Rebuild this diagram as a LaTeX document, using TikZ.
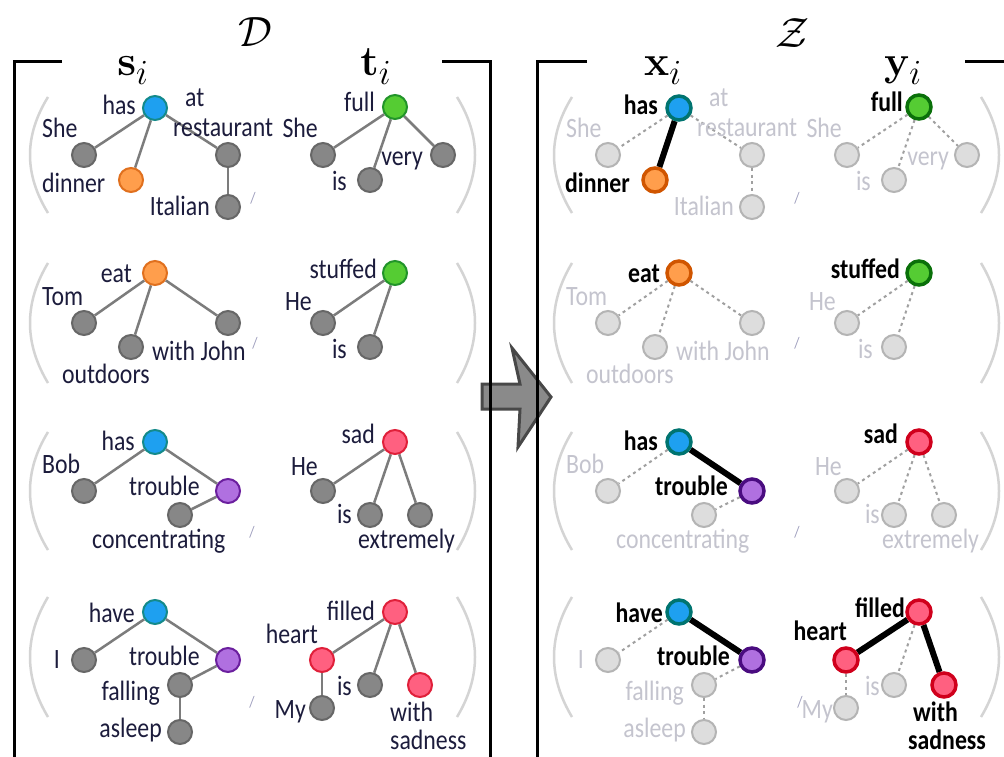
\documentclass[tikz,border=0pt]{standalone}
\usepackage[no-math]{fontspec}
\setmainfont{Carlito}[FakeStretch=0.85]
\usetikzlibrary{backgrounds}
\definecolor{ngray}{HTML}{878787}
\definecolor{ngrayd}{HTML}{676767}
\definecolor{edgec}{HTML}{7C7C7C}
\definecolor{cblue}{HTML}{1EA0F0}
\definecolor{cblued}{HTML}{148A8A}
\definecolor{cbluedk}{HTML}{007470}
\definecolor{corange}{HTML}{FF9E4C}
\definecolor{coranged}{HTML}{E0701E}
\definecolor{corangedk}{HTML}{D05500}
\definecolor{cgreen}{HTML}{55CC33}
\definecolor{cgreend}{HTML}{22942A}
\definecolor{cgreendk}{HTML}{0A700A}
\definecolor{cpurple}{HTML}{B070E0}
\definecolor{cpurpled}{HTML}{6B1F9E}
\definecolor{cpurpledk}{HTML}{4A0C80}
\definecolor{cred}{HTML}{FF6080}
\definecolor{credd}{HTML}{E0203A}
\definecolor{creddk}{HTML}{D0001C}
\definecolor{fadef}{HTML}{DDDDDD}
\definecolor{faded}{HTML}{B4B4B4}
\definecolor{fadee}{HTML}{A0A0A0}
\definecolor{labc}{HTML}{1C1C3C}
\definecolor{fadelab}{HTML}{C4C4CE}
\definecolor{slc}{HTML}{9C9CBC}
\definecolor{parc}{HTML}{D4D4D4}
\definecolor{arrf}{HTML}{8A8A8A}
\definecolor{arrd}{HTML}{484848}
\newcommand\labfont{\fontsize{28}{32}\selectfont}
\newcommand\ttlm[1]{\scalebox{1.7}{\Huge$#1$}}
\begin{document}
\begin{tikzpicture}[x=1pt,y=-1pt,
  nd/.style={circle, minimum size=24pt, inner sep=0pt, line width=2pt},
  gy/.style={nd, fill=ngray, draw=ngrayd},
  bl/.style={nd, fill=cblue, draw=cblued},
  orn/.style={nd, fill=corange, draw=coranged},
  grn/.style={nd, fill=cgreen, draw=cgreend},
  pu/.style={nd, fill=cpurple, draw=cpurpled},
  rd/.style={nd, fill=cred, draw=credd},
  fd/.style={nd, fill=fadef, draw=faded},
  Hbl/.style={nd, fill=cblue, draw=cbluedk, line width=3.5pt},
  Horn/.style={nd, fill=corange, draw=corangedk, line width=3.5pt},
  Hgrn/.style={nd, fill=cgreen, draw=cgreendk, line width=3.5pt},
  Hpu/.style={nd, fill=cpurple, draw=cpurpledk, line width=3.5pt},
  Hrd/.style={nd, fill=cred, draw=creddk, line width=3.5pt},
  lab/.style={inner sep=0pt, text=labc, font=\labfont},
  flab/.style={inner sep=0pt, text=fadelab, font=\labfont},
  blab/.style={inner sep=0pt, text=black, font=\labfont\bfseries},
  sl/.style={inner sep=0pt, text=slc, font=\fontsize{16}{16}\selectfont},
  ed/.style={draw=edgec, line width=2.5pt},
  fe/.style={draw=fadee, line width=2pt, dash pattern=on 3pt off 3.5pt},
  he/.style={draw=black, line width=6pt},
  par/.style={draw=parc, line width=2.5pt},
  brk/.style={draw=black, line width=3pt},
  ttl/.style={inner sep=0pt, anchor=base}
]
\useasboundingbox (0,0) rectangle (1004,757);
\clip (0,0) rectangle (1004,757);
\begin{scope}[on background layer]
\fill[white] (0,0) rectangle (1004,757);
\end{scope}

% titles
\node[inner sep=0pt] (tD) at (255,32) {\ttlm{\mathcal{D}}};
\node[inner sep=0pt] (tZ) at (792,33) {\ttlm{\mathcal{Z}}};
\node[ttl] (ts) at (133,76) {\ttlm{\mathbf{s}_i}};
\node[ttl] (tt) at (376,76) {\ttlm{\mathbf{t}_i}};
\node[ttl] (tx) at (663,76) {\ttlm{\mathbf{x}_i}};
\node[ttl] (ty) at (903,76) {\ttlm{\mathbf{y}_i}};

% arrow
\draw[fill=arrf, draw=arrd, line width=3pt, line join=miter]
  (482,384) -- (520,384) -- (512,348) -- (551,397) -- (518,447) -- (520,409) -- (482,409) -- cycle;

% brackets
\draw[brk] (62,62) -- (14,62) -- (14,770);
\draw[brk] (442,62) -- (490,62) -- (490,770);
\draw[brk] (587,62) -- (537,62) -- (537,770);
\draw[brk] (965,62) -- (1020,62);

% ================= LEFT PANEL =================
\draw[par] (48,97) .. controls (24,136) and (24,174) .. (48,213);
\draw[par] (457,97) .. controls (481,136) and (481,174) .. (457,213);
\draw[par] (48,263) .. controls (24,303) and (24,343) .. (48,383);
\draw[par] (457,263) .. controls (481,303) and (481,343) .. (457,383);
\draw[par] (48,432) .. controls (24,471) and (24,511) .. (48,550);
\draw[par] (457,432) .. controls (481,471) and (481,511) .. (457,550);
\draw[par] (48,597) .. controls (24,637) and (24,677) .. (48,717);
\draw[par] (457,597) .. controls (481,637) and (481,677) .. (457,717);

% row 1
\node[bl] (a1) at (155,108) {};
\node[gy] (a2) at (84,155) {};
\node[orn] (a3) at (131,180) {};
\node[gy] (a4) at (228,155) {};
\node[gy] (a5) at (228,207) {};
\node[grn] (a6) at (395,107) {};
\node[gy] (a7) at (323,155) {};
\node[gy] (a8) at (370,180) {};
\node[gy] (a9) at (443,155) {};
\node[lab, anchor=base east] (la1) at (136,115) {has};
\node[lab, anchor=base west] (la2) at (42,138) {She};
\node[lab, anchor=base west] (la3) at (42,193) {dinner};
\node[lab, anchor=base west] (la4a) at (185,107) {at};
\node[lab, anchor=base west] (la4b) at (173,137) {restaurant};
\node[lab, anchor=base east] (la5) at (210,215) {Italian};
\node[sl] (sa) at (253,198) {/};
\node[lab, anchor=base east] (la6) at (375,112) {full};
\node[lab, anchor=base east] (la7) at (318,138) {She};
\node[lab, anchor=base east] (la8) at (347,190) {is};
\node[lab, anchor=base east] (la9) at (423,165) {very};

% row 2
\node[orn] (b1) at (155,273) {};
\node[gy] (b2) at (84,323) {};
\node[gy] (b3) at (131,347) {};
\node[gy] (b4) at (228,323) {};
\node[grn] (b5) at (395,273) {};
\node[gy] (b6) at (323,323) {};
\node[gy] (b7) at (370,347) {};
\node[lab, anchor=base east] (lb1) at (132,282) {eat};
\node[lab, anchor=base west] (lb2) at (42,305) {Tom};
\node[lab, anchor=base west] (lb3) at (62,383) {outdoors};
\node[lab, anchor=base west] (lb4) at (152,360) {with John};
\node[sl] (sb) at (255,343) {/};
\node[lab, anchor=base east] (lb5) at (377,278) {stuffed};
\node[lab, anchor=base east] (lb6) at (312,310) {He};
\node[lab, anchor=base east] (lb7) at (347,358) {is};

% row 3
\node[bl] (c1) at (155,442) {};
\node[gy] (c2) at (84,491) {};
\node[pu] (c3) at (228,491) {};
\node[gy] (c4) at (180,515) {};
\node[rd] (c5) at (395,442) {};
\node[gy] (c6) at (323,491) {};
\node[gy] (c7) at (370,515) {};
\node[gy] (c8) at (420,515) {};
\node[lab, anchor=base east] (lc1) at (135,450) {has};
\node[lab, anchor=base west] (lc2) at (42,473) {Bob};
\node[lab, anchor=base east] (lc3) at (200,495) {trouble};
\node[lab, anchor=base west] (lc4) at (92,548) {concentrating};
\node[sl] (sc) at (252,532) {/};
\node[lab, anchor=base east] (lc5) at (375,443) {sad};
\node[lab, anchor=base east] (lc6) at (318,475) {He};
\node[lab, anchor=base east] (lc7) at (352,523) {is};
\node[lab, anchor=base west] (lc8) at (358,548) {extremely};

% row 4
\node[bl] (d1) at (155,612) {};
\node[gy] (d2) at (84,660) {};
\node[pu] (d3) at (228,660) {};
\node[gy] (d4) at (180,685) {};
\node[gy] (d5) at (180,732) {};
\node[rd] (d6) at (395,612) {};
\node[rd] (d7) at (322,660) {};
\node[gy] (d8) at (322,708) {};
\node[gy] (d9) at (370,685) {};
\node[rd] (d10) at (420,685) {};
\node[lab, anchor=base east] (ld1) at (135,622) {have};
\node[lab, anchor=base east] (ld2) at (60,668) {I};
\node[lab, anchor=base east] (ld3) at (200,665) {trouble};
\node[lab, anchor=base east] (ld4) at (160,700) {falling};
\node[lab, anchor=base east] (ld5) at (162,737) {asleep};
\node[sl] (sd) at (252,702) {/};
\node[lab, anchor=base east] (ld6) at (375,620) {filled};
\node[lab, anchor=base east] (ld7) at (318,643) {heart};
\node[lab, anchor=base east] (ld8) at (306,718) {My};
\node[lab, anchor=base east] (ld9) at (352,695) {is};
\node[lab, anchor=base west] (ld10a) at (390,721) {with};
\node[lab, anchor=base west] (ld10b) at (390,749) {sadness};

\begin{scope}[on background layer]
\draw[ed] (a1) -- (a2); \draw[ed] (a1) -- (a3); \draw[ed] (a1) -- (a4); \draw[ed] (a4) -- (a5);
\draw[ed] (a6) -- (a7); \draw[ed] (a6) -- (a8); \draw[ed] (a6) -- (a9);
\draw[ed] (b1) -- (b2); \draw[ed] (b1) -- (b3); \draw[ed] (b1) -- (b4);
\draw[ed] (b5) -- (b6); \draw[ed] (b5) -- (b7);
\draw[ed] (c1) -- (c2); \draw[ed] (c1) -- (c3); \draw[ed] (c3) -- (c4);
\draw[ed] (c5) -- (c6); \draw[ed] (c5) -- (c7); \draw[ed] (c5) -- (c8);
\draw[ed] (d1) -- (d2); \draw[ed] (d1) -- (d3); \draw[ed] (d3) -- (d4); \draw[ed] (d4) -- (d5);
\draw[ed] (d6) -- (d7); \draw[ed] (d6) -- (d9); \draw[ed] (d6) -- (d10); \draw[ed] (d7) -- (d8);
\end{scope}

% ================= RIGHT PANEL =================
\begin{scope}[xshift=524pt]
\draw[par] (48,97) .. controls (24,136) and (24,174) .. (48,213);
\draw[par] (457,97) .. controls (481,136) and (481,174) .. (457,213);
\draw[par] (48,263) .. controls (24,303) and (24,343) .. (48,383);
\draw[par] (457,263) .. controls (481,303) and (481,343) .. (457,383);
\draw[par] (48,432) .. controls (24,471) and (24,511) .. (48,550);
\draw[par] (457,432) .. controls (481,471) and (481,511) .. (457,550);
\draw[par] (48,597) .. controls (24,637) and (24,677) .. (48,717);
\draw[par] (457,597) .. controls (481,637) and (481,677) .. (457,717);

% row 1
\node[Hbl] (ra1) at (155,108) {};
\node[fd] (ra2) at (84,155) {};
\node[Horn] (ra3) at (131,180) {};
\node[fd] (ra4) at (228,155) {};
\node[fd] (ra5) at (228,207) {};
\node[Hgrn] (ra6) at (395,107) {};
\node[fd] (ra7) at (323,155) {};
\node[fd] (ra8) at (370,180) {};
\node[fd] (ra9) at (443,155) {};
\node[blab, anchor=base east] (rla1) at (134,115) {has};
\node[flab, anchor=base west] (rla2) at (42,138) {She};
\node[blab, anchor=base west] (rla3) at (41,193) {dinner};
\node[flab, anchor=base west] (rla4a) at (185,107) {at};
\node[flab, anchor=base west] (rla4b) at (173,137) {restaurant};
\node[flab, anchor=base east] (rla5) at (210,215) {Italian};
\node[sl] (rsa) at (273,198) {/};
\node[blab, anchor=base east] (rla6) at (379,112) {full};
\node[flab, anchor=base east] (rla7) at (318,138) {She};
\node[flab, anchor=base east] (rla8) at (347,190) {is};
\node[flab, anchor=base east] (rla9) at (425,165) {very};

% row 2
\node[Horn] (rb1) at (155,273) {};
\node[fd] (rb2) at (84,323) {};
\node[fd] (rb3) at (131,347) {};
\node[fd] (rb4) at (228,323) {};
\node[Hgrn] (rb5) at (395,273) {};
\node[fd] (rb6) at (323,323) {};
\node[fd] (rb7) at (370,347) {};
\node[blab, anchor=base east] (rlb1) at (136,282) {eat};
\node[flab, anchor=base west] (rlb2) at (42,305) {Tom};
\node[flab, anchor=base west] (rlb3) at (62,383) {outdoors};
\node[flab, anchor=base west] (rlb4) at (152,360) {with John};
\node[sl] (rsb) at (273,343) {/};
\node[blab, anchor=base east] (rlb5) at (376,278) {stuffed};
\node[flab, anchor=base east] (rlb6) at (312,310) {He};
\node[flab, anchor=base east] (rlb7) at (349,358) {is};

% row 3
\node[Hbl] (rc1) at (155,442) {};
\node[fd] (rc2) at (84,491) {};
\node[Hpu] (rc3) at (228,491) {};
\node[fd] (rc4) at (180,515) {};
\node[Hrd] (rc5) at (395,442) {};
\node[fd] (rc6) at (323,491) {};
\node[fd] (rc7) at (370,515) {};
\node[fd] (rc8) at (420,515) {};
\node[blab, anchor=base east] (rlc1) at (134,450) {has};
\node[flab, anchor=base west] (rlc2) at (42,473) {Bob};
\node[blab, anchor=base east] (rlc3) at (204,495) {trouble};
\node[flab, anchor=base west] (rlc4) at (92,548) {concentrating};
\node[sl] (rsc) at (273,532) {/};
\node[blab, anchor=base east] (rlc5) at (374,443) {sad};
\node[flab, anchor=base east] (rlc6) at (318,475) {He};
\node[flab, anchor=base east] (rlc7) at (356,523) {is};
\node[flab, anchor=base west] (rlc8) at (358,548) {extremely};

% row 4
\node[Hbl] (rd1) at (155,612) {};
\node[fd] (rd2) at (84,660) {};
\node[Hpu] (rd3) at (228,660) {};
\node[fd] (rd4) at (180,685) {};
\node[fd] (rd5) at (180,732) {};
\node[Hrd] (rd6) at (395,612) {};
\node[Hrd] (rd7) at (322,660) {};
\node[fd] (rd8) at (322,708) {};
\node[fd] (rd9) at (370,685) {};
\node[Hrd] (rd10) at (420,685) {};
\node[blab, anchor=base east] (rld1) at (139,622) {have};
\node[flab, anchor=base east] (rld2) at (60,668) {I};
\node[blab, anchor=base east] (rld3) at (206,665) {trouble};
\node[flab, anchor=base east] (rld4) at (160,700) {falling};
\node[flab, anchor=base east] (rld5) at (162,737) {asleep};
\node[sl] (rsd) at (276,702) {/};
\node[blab, anchor=base east] (rld6) at (381,617) {filled};
\node[blab, anchor=base east] (rld7) at (323,640) {heart};
\node[flab, anchor=base east] (rld8) at (309,718) {My};
\node[flab, anchor=base east] (rld9) at (356,695) {is};
\node[blab, anchor=base west] (rld10a) at (389,721) {with};
\node[blab, anchor=base west] (rld10b) at (384,749) {sadness};

\begin{scope}[on background layer]
\draw[fe] (ra1) -- (ra2); \draw[he] (ra1) -- (ra3); \draw[fe] (ra1) -- (ra4); \draw[fe] (ra4) -- (ra5);
\draw[fe] (ra6) -- (ra7); \draw[fe] (ra6) -- (ra8); \draw[fe] (ra6) -- (ra9);
\draw[fe] (rb1) -- (rb2); \draw[fe] (rb1) -- (rb3); \draw[fe] (rb1) -- (rb4);
\draw[fe] (rb5) -- (rb6); \draw[fe] (rb5) -- (rb7);
\draw[fe] (rc1) -- (rc2); \draw[he] (rc1) -- (rc3); \draw[fe] (rc3) -- (rc4);
\draw[fe] (rc5) -- (rc6); \draw[fe] (rc5) -- (rc7); \draw[fe] (rc5) -- (rc8);
\draw[fe] (rd1) -- (rd2); \draw[he] (rd1) -- (rd3); \draw[fe] (rd3) -- (rd4); \draw[fe] (rd4) -- (rd5);
\draw[he] (rd6) -- (rd7); \draw[fe] (rd6) -- (rd9); \draw[he] (rd6) -- (rd10); \draw[fe] (rd7) -- (rd8);
\end{scope}
\end{scope}
\end{tikzpicture}
\end{document}
